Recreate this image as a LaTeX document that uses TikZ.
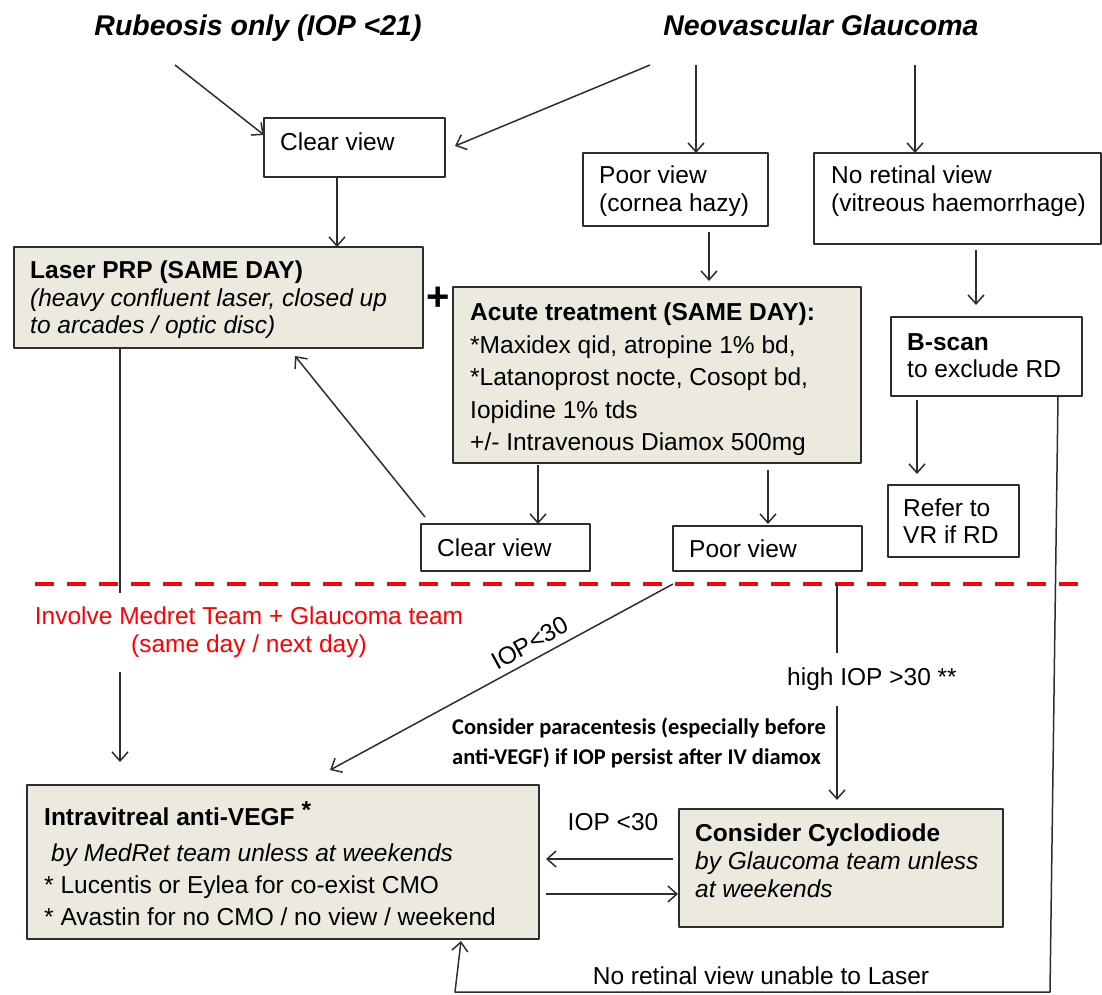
\documentclass[tikz,border=0pt]{standalone}
\usepackage{fontspec}
\setmainfont{Liberation Sans}
\newfontfamily\calib{Carlito}
\usetikzlibrary{arrows.meta}
\definecolor{beige}{RGB}{236,233,223}
\definecolor{ink}{RGB}{45,45,45}
\newcommand\bodyfs{\fontsize{24.5}{30}\selectfont}
\newcommand\stk[2]{\parbox[t]{600pt}{\baselineskip=#1pt\relax #2}}
\begin{document}
\begin{tikzpicture}[x=1pt,y=-1pt,line join=round,
  box/.style={draw=ink, line width=2pt, anchor=north west, inner sep=0pt, outer sep=0pt},
  fbox/.style={box, fill=beige},
  txt/.style={anchor=base west, inner sep=0pt, font=\bodyfs, text=black},
  ttl/.style={anchor=base, inner sep=0pt, font=\fontsize{28.5}{34}\selectfont\bfseries\itshape},
  arr/.style={draw=ink, line width=1.5pt, -{Straight Barb[length=9pt,width=16pt]}},
  ln/.style={draw=ink, line width=1.5pt}]
\useasboundingbox (0,0) rectangle (1102,994);

% titles
\node[ttl] (trub) at (258,35) {Rubeosis only (IOP <21)};
\node[ttl] (tneo) at (821,35) {Neovascular Glaucoma};

% boxes
\node[box, minimum width=181pt, minimum height=59pt] (cv1) at (264,118) {};
\node[fbox, minimum width=409pt, minimum height=101pt] (laser) at (14,247) {};
\node[box, minimum width=185pt, minimum height=73pt] (pv1) at (583,153) {};
\node[box, minimum width=287pt, minimum height=91pt] (nrv) at (814,153) {};
\node[fbox, minimum width=408pt, minimum height=176pt] (acute) at (453,287) {};
\node[box, minimum width=191pt, minimum height=79pt] (bscan) at (891,317) {};
\node[box, minimum width=131pt, minimum height=72pt] (refer) at (888,485) {};
\node[box, minimum width=169pt, minimum height=47pt] (cv2) at (421,524) {};
\node[box, minimum width=189pt, minimum height=45pt] (pv2) at (673,526) {};
\node[fbox, minimum width=512pt, minimum height=154pt] (vegf) at (27,785) {};
\node[fbox, minimum width=324pt, minimum height=118pt] (cyclo) at (679,809) {};

% box texts
\node[txt] (cv1t) at (280,150.5) {Clear view};
\node[txt] (lasert) at (30,278.5) {\stk{27.5}{\textbf{Laser PRP (SAME DAY)}\\\textit{(heavy confluent laser, closed up}\\\textit{to arcades / optic disc)}}};
\node[anchor=base, inner sep=0pt, font=\fontsize{40}{40}\selectfont\bfseries] (plus) at (438,310) {+};
\node[txt] (pv1t) at (599,183.5) {\stk{28}{Poor view\\(cornea hazy)}};
\node[txt] (nrvt) at (831,183.5) {\stk{28}{No retinal view\\(vitreous haemorrhage)}};
\node[txt] (acutet) at (470,320.5) {\stk{32.5}{\textbf{Acute treatment (SAME DAY):}\\{}*Maxidex qid, atropine 1\% bd,\\{}*Latanoprost nocte, Cosopt bd,\\Iopidine 1\% tds\\+/- Intravenous Diamox 500mg}};
\node[txt] (bscant) at (907,350.5) {\stk{27}{\textbf{B-scan}\\to exclude RD}};
\node[txt] (refert) at (903,516.5) {\stk{27}{Refer to\\VR if RD}};
\node[txt] (cv2t) at (437,556.5) {Clear view};
\node[txt] (pv2t) at (689,557.5) {Poor view};
\node[txt] (vegft) at (44,825.5) {\stk{32}{\textbf{Intravitreal anti-VEGF \raisebox{7pt}{*}}\\[4pt]\hspace*{7pt}\textit{by MedRet team unless at weekends}\\{}* Lucentis or Eylea for co-exist CMO\\{}* Avastin for no CMO / no view / weekend}};
\node[txt] (cyclot) at (695,841.5) {\stk{28}{\textbf{Consider Cyclodiode}\\\textit{by Glaucoma team unless}\\\textit{at weekends}}};

% red dashed divider
\coordinate (dl) at (35,584);
\coordinate (dr) at (1088,584);
\draw[red, line width=4pt, dash pattern=on 19pt off 13pt] (dl) -- (dr);

% connectors
\coordinate (r1) at (175,65);
\coordinate (n0) at (650,65);
\coordinate (n1) at (696,65);
\coordinate (n2) at (915,65);
\draw[arr] (r1) -- ([yshift=-17pt]cv1.north west);
\draw[arr] (n0) -- ([xshift=10pt,yshift=-28pt]cv1.north east);
\draw[arr] (n1) -- (n1 |- pv1.north);
\draw[arr] (n2) -- (n2 |- nrv.north);
\coordinate (c5) at ([xshift=-17.5pt]cv1.south);
\draw[arr] (c5) -- (c5 |- laser.north);
\coordinate (c6) at ([xshift=33.5pt,yshift=-6pt]pv1.south);
\draw[arr, shorten >=6pt] (c6) -- (c6 |- acute.north);
\coordinate (c7) at ([xshift=18.5pt,yshift=-6pt]nrv.south);
\draw[arr, shorten >=12pt] (c7) -- (c7 |- bscan.north);
\coordinate (c8) at ([xshift=-69.5pt,yshift=-4pt]bscan.south);
\draw[arr, shorten >=11pt] (c8) -- (c8 |- refer.north);
\coordinate (c9) at ([xshift=-119pt,yshift=-2pt]acute.south);
\draw[arr] (c9) -- (c9 |- cv2.north);
\coordinate (c10) at ([xshift=111pt,yshift=-7pt]acute.south);
\draw[arr, shorten >=2pt] (c10) -- (c10 |- pv2.north);
\draw[arr] ([xshift=4pt,yshift=7pt]cv2.north west) -- ([xshift=-128pt,yshift=-8pt]laser.south east);
\coordinate (c12) at ([xshift=106pt]laser.south west);
\draw[arr, shorten >=23pt] (c12) -- (c12 |- vegf.north);
\coordinate (c13) at ([yshift=-13pt]pv2.south west);
\draw[arr] (c13) -- ([xshift=303pt,yshift=15pt]vegf.north west);
\coordinate (c14) at ([xshift=164pt,yshift=-13pt]pv2.south west);
\draw[arr, shorten >=9pt] (c14) -- (c14 |- cyclo.north);
\coordinate (c15) at ([xshift=-6pt,yshift=-50pt]cyclo.north west);
\draw[arr, shorten >=7pt] (c15) -- (c15 -| vegf.east);
\coordinate (c16) at ([xshift=7pt,yshift=-109pt]vegf.north east);
\draw[arr, shorten >=1pt] (c16) -- (c16 -| cyclo.west);
\coordinate (rb) at (1050,992);
\coordinate (lb) at (455,992);
\draw[arr] ([xshift=-24pt]bscan.south east) -- (rb) -- (lb) -- ([xshift=434pt,yshift=-2pt]vegf.south west);

% labels
\node[anchor=base, inner xsep=0pt, inner ysep=14pt, fill=white, text=red, font=\bodyfs] (redt) at (249,624.5) {\parbox[t]{440pt}{\centering\baselineskip=28pt Involve Medret Team + Glaucoma team\\(same day / next day)}};
\node[anchor=base, inner xsep=2pt, inner ysep=15pt, fill=white, font=\bodyfs] (hight) at (872,685.5) {high IOP >30 **};
\node[anchor=center, inner sep=0pt, rotate=28.5, font=\bodyfs] (iopd) at (530,643) {IOP<30};
\node[txt, anchor=base west, font=\fontsize{22.5}{30}\selectfont\calib\bfseries] (parat) at (452,734) {\stk{30}{Consider paracentesis (especially before\\anti-VEGF) if IOP persist after IV diamox}};
\node[anchor=base, inner sep=0pt, font=\bodyfs] (iopl) at (613,830.5) {IOP <30};
\node[anchor=base, inner sep=0pt, font=\bodyfs] (nolas) at (761,984.5) {No retinal view unable to Laser};
\end{tikzpicture}
\end{document}
